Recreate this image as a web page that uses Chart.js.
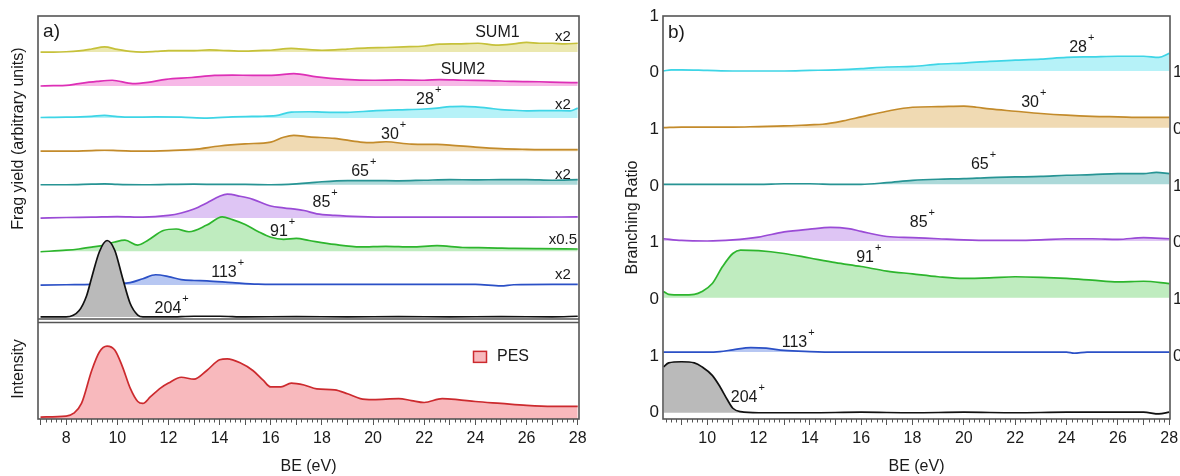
<!DOCTYPE html>
<html><head><meta charset="utf-8">
<script src="https://cdn.jsdelivr.net/npm/chart.js@4.4.1/dist/chart.umd.min.js"></script>
<style>
html,body{margin:0;padding:0;background:#fff;overflow:hidden;width:1180px;height:476px;}
#wrap{position:relative;width:1180px;height:476px;overflow:hidden;}
#ca{position:absolute;left:0;top:0;}
#cb{position:absolute;left:600px;top:0;}
</style></head><body>
<div id="wrap"><canvas id="ca" width="600" height="476"></canvas><canvas id="cb" width="590" height="476"></canvas></div>
<script>
// ---------- DATA: panel a (fragment yields, BE in eV, relative height) ----------
const xTickLabels = [8, 10, 12, 14, 16, 18, 20, 22, 24, 26, 28];
const ionNamesA = ['204', '113', '91', '85', '65', '30', '28', 'SUM2', 'SUM1'];
const scaleNotesA = ['', 'x2', 'x0.5', '', 'x2', '', 'x2', '', 'x2'];

const aSUM1 = [[7,0],[7.5,0],[8,0.01],[8.5,0.04],[9,0.1],[9.5,0.17],[10,0.09],[10.5,0.02],[11,0],[11.5,0.02],[12,0.05],[12.5,0.05],[13,0.05],[13.6,0.07],[14,0.06],[15,0.03],[15.5,0.05],[16,0.06],[16.8,0.12],[17.5,0.08],[18,0.06],[18.5,0.07],[19,0.1],[19.8,0.14],[20.5,0.15],[21.2,0.17],[22,0.2],[22.6,0.26],[23.3,0.27],[24.1,0.29],[24.8,0.23],[25.5,0.27],[26,0.32],[26.5,0.29],[27,0.29],[27.5,0.27],[28,0.29]];
const aSUM2 = [[7,0],[7.5,0.01],[8,0.02],[8.5,0.08],[9.2,0.15],[9.8,0.19],[10.6,0.08],[11.2,0.12],[11.9,0.22],[12.9,0.28],[13.8,0.35],[14.5,0.36],[15.3,0.35],[16.2,0.36],[16.9,0.41],[17.8,0.3],[18.9,0.22],[20,0.19],[21,0.2],[22,0.19],[22.6,0.21],[23.5,0.19],[24.5,0.18],[25.5,0.15],[26.5,0.14],[27.3,0.12],[28,0.11]];
const a28 = [[7,0.02],[8,0.03],[9,0.06],[9.5,0.09],[10,0.05],[10.5,0.03],[11.5,0.04],[12.5,0.03],[13.5,0],[14.5,0.04],[15.5,0.06],[16.2,0.08],[16.8,0.2],[17.5,0.21],[18,0.2],[19,0.19],[20,0.24],[21,0.27],[22,0.3],[22.5,0.33],[23,0.38],[23.5,0.39],[24,0.37],[24.5,0.33],[25,0.28],[25.5,0.26],[26,0.24],[27,0.25],[27.7,0.24],[28,0.33]];
const a30 = [[7,0],[8,0],[9,0.02],[9.5,0.03],[10,0.02],[11,0],[12,0.02],[13,0.06],[14,0.17],[15,0.24],[16,0.3],[16.5,0.46],[16.9,0.52],[17.5,0.47],[18.5,0.42],[19.5,0.3],[20,0.28],[20.5,0.31],[21.5,0.23],[22.5,0.22],[23,0.2],[24,0.13],[25,0.08],[26,0.06],[27,0.05],[28,0.05]];
const a65 = [[7,0],[8,0],[9,0.02],[9.5,0.03],[10,0.01],[11,0],[12,0.01],[13,0.02],[14,0.01],[15,0.01],[16,0],[17,0.03],[17.5,0.06],[18,0.1],[19,0.14],[20,0.14],[21,0.13],[22,0.15],[23,0.17],[24,0.16],[25,0.17],[26,0.17],[27,0.15],[28,0.17]];
const a85 = [[7,0],[8,0.02],[9,0.03],[10,0.05],[11,0.03],[12,0.09],[12.5,0.17],[13,0.3],[13.5,0.5],[14,0.72],[14.3,0.79],[14.8,0.72],[15.3,0.62],[16,0.4],[16.5,0.34],[17.3,0.25],[17.8,0.14],[18.5,0.09],[19.5,0.05],[20.5,0.03],[22,0.03],[24,0.03],[26,0.03],[28,0.04]];
const a91 = [[7,-0.02],[8,0.03],[8.5,0.07],[9,0.13],[9.5,0.2],[9.9,0.3],[10.3,0.36],[10.8,0.2],[11.2,0.36],[11.8,0.68],[12.3,0.73],[12.8,0.64],[13.5,0.86],[14.1,1.13],[14.5,1.04],[15,0.88],[15.5,0.65],[16,0.46],[16.5,0.39],[17,0.42],[17.5,0.35],[18.5,0.22],[19.5,0.14],[20.5,0.16],[21.5,0.14],[22.5,0.18],[23.5,0.12],[24.5,0.11],[25.5,0.09],[26.5,0.08],[28,0.07]];
const a113 = [[7,0],[8,0.01],[9,0.02],[10,0.05],[10.5,0.08],[11,0.21],[11.5,0.34],[12,0.28],[12.5,0.18],[13,0.15],[13.5,0.14],[14.5,0.08],[15.5,0.03],[17,0.02],[19,0.02],[21,0.02],[23,0.02],[24,0.02],[25,-0.03],[25.5,0.01],[27,0.02],[28,0.02]];
const a204 = [[7,0],[8,0],[8.5,0.2],[8.8,0.7],[9,1.3],[9.3,2.15],[9.6,2.52],[9.9,2.2],[10.2,1.3],[10.5,0.45],[10.8,0.06],[11,0],[12,0],[13,0.02],[14,0.02],[15,0],[17,0.01],[19,0],[21,0.01],[23,0],[25,0.01],[27,0],[28,0.02]];
const aPES = [[7,0.02],[8,0.03],[8.3,0.06],[8.6,0.16],[9,0.5],[9.3,0.69],[9.6,0.75],[9.9,0.71],[10.2,0.54],[10.5,0.32],[10.8,0.18],[11,0.16],[11.3,0.23],[11.7,0.32],[12,0.37],[12.5,0.43],[13,0.41],[13.5,0.5],[14,0.61],[14.3,0.62],[14.8,0.58],[15.3,0.5],[15.7,0.4],[16,0.33],[16.4,0.33],[16.8,0.37],[17.3,0.35],[17.8,0.31],[18.5,0.3],[19,0.26],[19.5,0.21],[20,0.2],[21,0.21],[21.5,0.19],[22,0.17],[22.7,0.21],[23.3,0.2],[24,0.18],[25,0.16],[26,0.14],[27,0.13],[28,0.13]];

// ---------- DATA: panel b (branching ratios, 0..1 per trace) ----------
const ionNamesB = ['204', '113', '91', '85', '65', '30', '28'];
const b28 = [[8.3,0],[8.6,0.02],[9,0.02],[10,0.01],[11,0],[12,0],[13,0],[14,0.01],[15,0.02],[16,0.04],[17,0.07],[18,0.08],[19,0.12],[20,0.14],[21,0.17],[22,0.19],[23,0.21],[24,0.24],[25,0.25],[26,0.26],[27,0.26],[27.6,0.24],[28,0.31]];
const b30 = [[8.3,0],[9,0.01],[10,0.01],[11,0.01],[12,0.02],[13,0.03],[14,0.05],[14.5,0.06],[15.3,0.12],[16,0.19],[17,0.29],[18,0.36],[19,0.37],[20,0.38],[20.5,0.36],[21,0.33],[22,0.29],[23,0.25],[24,0.22],[25,0.2],[26,0.19],[27,0.18],[28,0.18]];
const b65 = [[8.3,0],[10,0],[12,0],[13,0.01],[14,0.01],[15,0],[16,0],[17,0.03],[18,0.07],[19,0.09],[20,0.1],[21,0.12],[22,0.13],[23,0.14],[24,0.16],[25,0.17],[26,0.19],[27,0.19],[27.5,0.21],[28,0.19]];
const b85 = [[8.3,0.04],[9,0.01],[10,0],[11,0.02],[12,0.07],[13,0.16],[14,0.21],[14.8,0.24],[15.5,0.22],[16,0.17],[17,0.08],[18,0.06],[19,0.04],[20,0.02],[21,0.01],[22,0.01],[23,0.02],[24,0.04],[25,0.04],[26,0.03],[27,0.06],[28,0.04]];
const b91 = [[8.3,0.11],[8.5,0.06],[9,0.05],[9.5,0.06],[9.8,0.11],[10.2,0.25],[10.6,0.55],[11,0.78],[11.3,0.84],[12,0.83],[13,0.78],[14,0.7],[15,0.62],[16,0.55],[17,0.47],[18,0.42],[19,0.37],[20,0.34],[21,0.35],[22,0.37],[23,0.36],[24,0.34],[25,0.31],[26,0.28],[27,0.29],[28,0.25]];
const b113 = [[8.3,0],[10,0],[10.5,0.01],[11,0.04],[11.7,0.08],[12.3,0.07],[13,0.03],[14,0.01],[15,0],[20,0],[24,0],[24.3,-0.02],[24.8,0],[28,0]];
const b204 = [[8.3,0.81],[8.5,0.88],[9,0.9],[9.5,0.88],[9.8,0.81],[10.2,0.66],[10.5,0.46],[10.8,0.22],[11,0.08],[11.3,0.02],[12,0],[14,0],[16,0.01],[18,0],[20,0.01],[22,0],[24,0.01],[26,0.01],[27,0.01],[27.6,-0.02],[28,0.01]];

// ---------- STYLE / LAYOUT ----------
const FONT = '"Liberation Sans", Arial, Helvetica, sans-serif';
const TXT = '#1a1a1a';
const COL = {
  SUM1: ['#c6c13a', '#ebe8b0'], SUM2: ['#dd2fb6', '#f7b8e7'],
  '28': ['#3ed5e6', '#b6f2f8'], '30': ['#c38b2b', '#f0dab3'],
  '65': ['#279494', '#acd9d9'], '85': ['#9a4bd6', '#dec5f4'],
  '91': ['#2db52d', '#bfecbf'], '113': ['#2b50c6', '#b7c7f2'],
  '204': ['#111111', '#bababa'], PES: ['#cc2a2e', '#f8b9bd']
};
const seriesA = {SUM1: aSUM1, SUM2: aSUM2, '28': a28, '30': a30, '65': a65, '85': a85, '91': a91, '113': a113, '204': a204};
const offsetsA = {'204': 0.07, '113': 1.12, '91': 2.24, '85': 3.33, '65': 4.43, '30': 5.54, '28': 6.63, SUM2: 7.69, SUM1: 8.81};
const seriesB = {'28': b28, '30': b30, '65': b65, '85': b85, '91': b91, '113': b113, '204': b204};
const offsetsB = {'204': 0, '113': 1.07, '91': 2.03, '85': 3.03, '65': 4.03, '30': 5.03, '28': 6.03};

function mk(pts, off, key, axis) {
  return {
    data: pts.map(p => ({x: p[0], y: off + p[1]})),
    borderColor: COL[key][0], backgroundColor: COL[key][1],
    borderWidth: 1.7, pointRadius: 0, tension: 0.35, cubicInterpolationMode: 'monotone',
    fill: {value: off}, yAxisID: axis
  };
}

const framePlugin = {
  id: 'frame',
  afterDraw(chart, args, opts) {
    const {ctx, chartArea: a} = chart;
    ctx.save();
    ctx.strokeStyle = '#555';
    const x = chart.scales.x;
    ctx.lineWidth = 1;
    ctx.beginPath();
    for (let k = Math.ceil(x.min * 5 - 1e-6); k <= Math.floor(x.max * 5 + 1e-6); k++) {
      if (k % 5 === 0) continue;
      const px = Math.round(x.getPixelForValue(k / 5)) + 0.5;
      ctx.moveTo(px, a.bottom); ctx.lineTo(px, a.bottom + 3.5);
    }
    ctx.stroke();
    if (opts.divider) {
      const s = chart.scales[opts.divider];
      ctx.lineWidth = 1.3;
      ctx.beginPath();
      ctx.moveTo(a.left, s.bottom); ctx.lineTo(a.right, s.bottom);
      ctx.moveTo(a.left, s.bottom + 3.5); ctx.lineTo(a.right, s.bottom + 3.5);
      ctx.stroke();
    }
    ctx.lineWidth = 1.6;
    ctx.strokeRect(a.left, a.top, a.right - a.left, a.bottom - a.top);
    ctx.restore();
  }
};

const annotPlugin = {
  id: 'annot',
  afterDatasetsDraw(chart, args, opts) {
    const {ctx} = chart;
    const xs = chart.scales.x;
    ctx.save();
    ctx.fillStyle = TXT;
    ctx.textBaseline = 'middle';
    for (const it of (opts.items || [])) {
      const ys = chart.scales[it.axis || 'y'];
      const px = xs.getPixelForValue(it.x), py = ys.getPixelForValue(it.y);
      ctx.font = (it.size || 16) + 'px ' + FONT;
      ctx.textAlign = it.align || 'center';
      ctx.fillText(it.text, px, py);
      if (it.sup) {
        const w = ctx.measureText(it.text).width;
        const right = it.align === 'left' ? px + w : px + w / 2;
        ctx.font = '11px ' + FONT;
        ctx.textAlign = 'left';
        ctx.fillText(it.sup, right + 1, py - 10);
      }
    }
    const lg = opts.legend;
    if (lg) {
      const ys = chart.scales[lg.axis];
      const px = xs.getPixelForValue(lg.x), py = ys.getPixelForValue(lg.y);
      ctx.fillStyle = COL.PES[1];
      ctx.strokeStyle = COL.PES[0];
      ctx.lineWidth = 1.5;
      ctx.fillRect(px - 6.5, py - 5.5, 13, 11);
      ctx.strokeRect(px - 6.5, py - 5.5, 13, 11);
      ctx.fillStyle = TXT;
      ctx.font = '16px ' + FONT;
      ctx.textAlign = 'left';
      ctx.fillText(lg.text, px + 17, py);
    }
    ctx.restore();
  }
};

function xAxis(min, max) {
  return {
    type: 'linear', min: min, max: max,
    ticks: {stepSize: 1, autoSkip: false, includeBounds: false, maxRotation: 0,
      callback: v => (xTickLabels.includes(v) ? String(v) : ''),
      font: {size: 16, family: FONT}, color: TXT, padding: 4},
    grid: {display: true, drawOnChartArea: false, drawTicks: true, tickLength: 6, tickColor: '#555', tickWidth: 1},
    border: {display: false},
    title: {display: true, text: 'BE (eV)', font: {size: 16, family: FONT}, color: TXT, padding: {top: 0, bottom: 0}},
    afterFit: s => { s.height = 57; }
  };
}

// ---------- PANEL A ----------
const dsA = ionNamesA.map(k => mk(seriesA[k], offsetsA[k], k, 'y'));
dsA.push(mk(aPES, 0, 'PES', 'y2'));

const annA = [{text: 'a)', x: 7.1, y: 9.48, size: 19, align: 'left'}];
const labelPosA = {SUM1: [24.86, 9.44], SUM2: [23.51, 8.22], '28': [22.03, 7.23], '30': [20.66, 6.07], '65': [19.49, 4.85], '85': [17.98, 3.83], '91': [16.32, 2.87], '113': [14.17, 1.52], '204': [11.98, 0.33]};
ionNamesA.forEach(k => {
  const p = labelPosA[k];
  annA.push({text: k, sup: k.startsWith('SUM') ? '' : '+', x: p[0], y: p[1]});
});
const notePosA = {SUM1: 9.31, '28': 7.06, '65': 4.75, '91': 2.61, '113': 1.45};
ionNamesA.forEach((k, i) => {
  if (scaleNotesA[i]) annA.push({text: scaleNotesA[i], x: 27.42, y: notePosA[k], size: 15});
});

new Chart(document.getElementById('ca'), {
  type: 'line',
  data: {datasets: dsA},
  options: {
    responsive: false, animation: false, devicePixelRatio: 1,
    layout: {padding: {top: 16, right: 21, left: 0, bottom: 0}},
    plugins: {legend: {display: false}, tooltip: {enabled: false},
      frame: {divider: 'y'},
      annot: {items: annA, legend: {text: 'PES', x: 24.18, y: 0.64, axis: 'y2'}}},
    scales: {
      x: xAxis(6.9, 28.05),
      y2: {type: 'linear', position: 'left', stack: 'a', stackWeight: 100, min: 0, max: 1.03,
        ticks: {display: false}, grid: {display: false, drawTicks: false}, border: {display: false},
        title: {display: true, text: 'Intensity', font: {size: 16, family: FONT}, color: TXT, padding: {top: 9, bottom: 0}},
        afterFit: s => { s.width = 38; }},
      y: {type: 'linear', position: 'left', stack: 'a', stackWeight: 303, min: 0, max: 10,
        ticks: {display: false}, grid: {display: false, drawTicks: false}, border: {display: false},
        title: {display: true, text: '             Frag yield (arbitrary units)', font: {size: 16, family: FONT}, color: TXT, padding: {top: 9, bottom: 0}},
        afterFit: s => { s.width = 38; }}
    }
  },
  plugins: [framePlugin, annotPlugin]
});

// ---------- PANEL B ----------
const dsB = ionNamesB.map(k => mk(seriesB[k], offsetsB[k], k, 'y'));
const labelPosB = {'28': [24.45, 6.44], '30': [22.58, 5.47], '65': [20.62, 4.37], '85': [18.24, 3.35], '91': [16.15, 2.73], '113': [13.4, 1.23], '204': [11.44, 0.26]};
const annB = [{text: 'b)', x: 8.47, y: 6.7, size: 19, align: 'left'}];
ionNamesB.forEach(k => annB.push({text: k, sup: '+', x: labelPosB[k][0], y: labelPosB[k][1]}));

new Chart(document.getElementById('cb'), {
  type: 'line',
  data: {datasets: dsB},
  options: {
    responsive: false, animation: false, devicePixelRatio: 1,
    layout: {padding: {top: 16, right: 0, left: 0, bottom: 0}},
    plugins: {legend: {display: false}, tooltip: {enabled: false},
      frame: {}, annot: {items: annB}},
    scales: {
      x: xAxis(8.28, 28.03),
      y: {type: 'linear', position: 'left', min: -0.11, max: 7,
        ticks: {stepSize: 1, includeBounds: false, autoSkip: false, callback: v => (v % 2 === 0 ? '0' : '1'),
          font: {size: 17, family: FONT}, color: TXT, padding: 4},
        grid: {display: false, drawTicks: false}, border: {display: false},
        title: {display: true, text: 'Branching Ratio', font: {size: 16, family: FONT}, color: TXT, padding: {top: 23, bottom: 0}},
        afterFit: s => { s.width = 63; }},
      yr: {type: 'linear', position: 'right', min: -0.11, max: 7,
        ticks: {stepSize: 1, includeBounds: false, autoSkip: false,
          callback: v => (v >= 1 && v <= 6 ? (v % 2 === 0 ? '1' : '0') : ''),
          font: {size: 17, family: FONT}, color: TXT, padding: 3},
        grid: {display: false, drawTicks: false}, border: {display: false},
        afterFit: s => { s.width = 20; }}
    }
  },
  plugins: [framePlugin, annotPlugin]
});
</script>
</body></html>
